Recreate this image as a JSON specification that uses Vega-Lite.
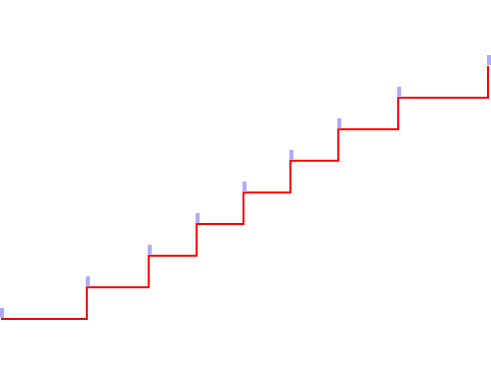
{
  "$schema": "https://vega.github.io/schema/vega-lite/v6.json",
  "width": 491,
  "height": 378,
  "autosize": {"type": "fit", "contains": "padding"},
  "padding": 0,
  "background": "white",
  "config": {"view": {"stroke": null}},
  "data": {
    "values": [
      {"x": 0, "y": 1},
      {"x": 86, "y": 2},
      {"x": 148, "y": 3},
      {"x": 196, "y": 4},
      {"x": 243, "y": 5},
      {"x": 290, "y": 6},
      {"x": 338, "y": 7},
      {"x": 398, "y": 8},
      {"x": 488, "y": 9}
    ]
  },
  "encoding": {
    "x": {"field": "x", "type": "quantitative", "axis": null, "scale": {"domain": [0, 491], "nice": false, "zero": false}},
    "y": {"field": "y", "type": "quantitative", "axis": null, "scale": {"domain": [-0.87, 11.09], "nice": false, "zero": false}}
  },
  "layer": [
    {
      "mark": {"type": "line", "interpolate": "step-after", "color": "#ff0000", "strokeWidth": 2, "clip": true}
    },
    {
      "mark": {"type": "tick", "orient": "vertical", "color": "#aaaaff", "opacity": 1, "size": 10, "thickness": 4, "xOffset": 1, "yOffset": -6}
    }
  ]
}
